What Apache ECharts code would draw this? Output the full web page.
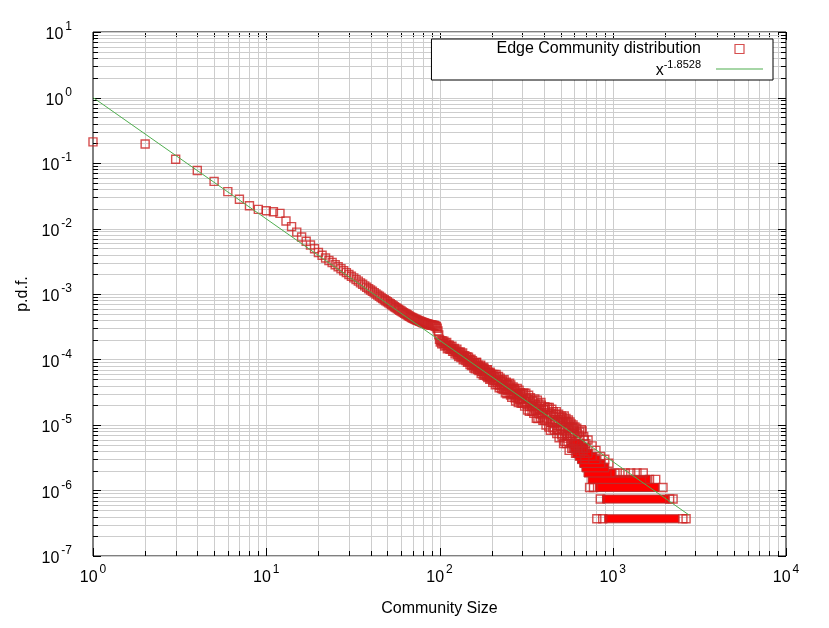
<!DOCTYPE html>
<html><head><meta charset="utf-8">
<script src="https://cdn.jsdelivr.net/npm/echarts@6/dist/echarts.min.js"></script>
<style>html,body{margin:0;padding:0;background:#fff}#c{width:829px;height:628px}</style>
</head><body><div id="c"></div>
<script>
// ---- data: community size vs p.d.f. (individual points) ----
const communitySizes = [
 1,2,3,4,5,6,7,8,9,10,11,12,13,14,15,16,17,18,19,20,
 21,22,23,24,25,26,27,28,29,30,31,32,33,34,35,36,37,38,39,40,
 41,42,43,44,45,46,47,48,49,50,51,52,53,54,55,56,57,58,59,60,
 61,62,63,64,65,66,67,68,69,70,71,72,73,74,75,76,77,78,79,80,
 81,82,83,84,85,86,87,88,89,90,91,92,93,94,95,96,97,98,99,100,
 101,102,103,104,105,106,107,108,109,110,111,112,113,114,115,116,117,118,119,120,
 121,122,123,124,125,126,127,128,129,130,131,132,133,134,135,136,137,138,139,140,
 142,144,146,148,150,152,154,156,158,160,162,164,166,168,170,172,174,176,178,180,
 182,184,186,188,190,192,194,196,198,200,
 143,145,147,149,151,153,155,157,159,161,163,165,167,169,171,173,175,177,179,181,
 183,185,187,189,191,193,195,197,199,
 203,206,209,212,215,218,221,224,227,230,233,236,239,242,245,248,251,254,257,260,
 263,266,269,272,275,278,281,284,287,290,293,296,299,
 201,204,207,210,213,216,219,222,225,228,231,234,237,240,243,246,249,252,255,258,
 261,264,267,270,273,276,279,282,285,288,291,294,297,300,
 305,310,315,320,325,330,335,340,345,350,355,360,365,370,375,380,385,390,395,400,
 302,307,312,317,322,327,332,337,342,347,352,357,362,367,372,377,382,387,392,397,
 406,412,418,424,430,436,442,448,454,460,466,472,478,484,490,496,500,
 403,409,415,421,427,433,439,445,451,457,463,469,475,481,487,493,499,
 505,510,515,520,525,530,535,540,545,550,555,560,565,570,575,580,585,590,595,600,
 502,507,512,517,522,527,532,537,542,547,552,557,562,567,572,577,582,587,592,597,
 610,620,630,640,650,660,670,680,690,700,
 605,615,625,635,645,655,665,675,685,695,
 720,760,800,850,900,950,
 735,774,809,847,875,1030,1100,1180,1270,1380,1500,
 1630,1770,1950,2130,2230,2540,2650
];
const pdfValues = [
 0.21,0.195,0.114,0.077,0.0525,0.0365,0.028,0.0223,0.0196,0.0187,0.018,0.017,0.013,0.0107,0.0088,0.0074,0.0064,0.0056,0.0049,0.0043,
 0.0039,0.00355,0.00325,0.00302,0.0028,0.0026,0.00243,0.00227,0.00212,0.00199,0.00187,0.00176,0.00166,0.00157,0.00148,0.00141,0.00133,0.00127,0.0012,0.00115,
 0.0011,0.00105,0.001,0.000962,0.000925,0.000885,0.00085,0.000818,0.000788,0.00076,0.000733,0.000708,0.000684,0.00066,0.00064,0.00062,0.0006,0.000582,0.000566,0.00055,
 0.000534,0.00052,0.000506,0.000494,0.000481,0.000469,0.000458,0.000447,0.000437,0.00043,0.000422,0.000414,0.000407,0.000401,0.000395,0.000389,0.000383,0.000378,0.000373,0.000368,
 0.000364,0.00036,0.000356,0.000352,0.000349,0.000346,0.000343,0.00034,0.000338,0.000336,0.000334,0.000332,0.00033,0.000327,0.000323,0.000316,0.0003,0.000272,0.000238,0.000203,
 1.84e-4,1.94e-4,1.73e-4,1.92e-4,1.75e-4,1.91e-4,1.60e-4,1.77e-4,1.65e-4,1.82e-4,1.46e-4,1.65e-4,1.51e-4,1.66e-4,1.43e-4,1.57e-4,1.46e-4,1.60e-4,1.33e-4,1.43e-4,
 1.34e-4,1.47e-4,1.22e-4,1.38e-4,1.28e-4,1.44e-4,1.19e-4,1.29e-4,1.11e-4,1.28e-4,1.16e-4,1.30e-4,1.07e-4,1.20e-4,1.12e-4,1.26e-4,9.9e-5,1.13e-4,1.03e-4,1.14e-4,
 9.6e-5,1.10e-4,9.4e-5,1.00e-4,8.4e-5,1.01e-4,8.4e-5,8.9e-5,7.4e-5,8.9e-5,7.8e-5,9.0e-5,7.0e-5,7.8e-5,7.0e-5,7.9e-5,6.1e-5,7.3e-5,6.6e-5,7.6e-5,
 5.8e-5,6.6e-5,5.9e-5,6.9e-5,5.3e-5,6.3e-5,5.5e-5,6.4e-5,5.1e-5,5.7e-5,
 1.07e-4,9.1e-5,1.08e-4,9.1e-5,9.7e-5,8.1e-5,9.6e-5,8.1e-5,8.7e-5,7.2e-5,9.0e-5,7.7e-5,8.2e-5,6.8e-5,7.4e-5,8.2e-5,6.6e-5,7.3e-5,5.8e-5,7.2e-5,
 6.2e-5,6.6e-5,5.6e-5,7.0e-5,5.6e-5,6.0e-5,5.0e-5,6.1e-5,5.4e-5,
 4.5e-5,5.9e-5,4.8e-5,5.9e-5,4.2e-5,4.9e-5,3.7e-5,5.2e-5,4.2e-5,4.6e-5,3.5e-5,4.9e-5,3.6e-5,4.1e-5,3.0e-5,4.2e-5,3.5e-5,4.35e-5,2.86e-5,3.5e-5,
 2.93e-5,3.8e-5,2.96e-5,3.4e-5,2.33e-5,3.0e-5,3.6e-5,2.48e-5,3.0e-5,2.52e-5,3.1e-5,2.14e-5,2.69e-5,
 5.9e-5,4.8e-5,5.4e-5,4.1e-5,5.5e-5,4.5e-5,5.5e-5,4.0e-5,4.6e-5,3.6e-5,4.8e-5,3.9e-5,4.2e-5,3.1e-5,4.5e-5,3.4e-5,4.0e-5,3.1e-5,3.6e-5,4.1e-5,
 2.65e-5,3.5e-5,3.0e-5,3.6e-5,2.6e-5,3.3e-5,2.77e-5,3.0e-5,2.2e-5,3.4e-5,2.42e-5,2.88e-5,2.49e-5,2.96e-5,
 3.0e-5,1.94e-5,3.05e-5,2.05e-5,2.44e-5,1.62e-5,2.6e-5,1.94e-5,2.29e-5,1.51e-5,2.49e-5,1.69e-5,1.93e-5,1.26e-5,2.09e-5,1.47e-5,2.2e-5,1.54e-5,1.18e-5,1.74e-5,
 2.16e-5,3.08e-5,2.27e-5,2.55e-5,1.69e-5,2.85e-5,1.92e-5,2.18e-5,1.62e-5,2.36e-5,1.82e-5,2.06e-5,1.27e-5,2.4e-5,1.52e-5,1.77e-5,1.32e-5,2.01e-5,1.42e-5,1.69e-5,
 1.91e-5,1.0e-5,1.53e-5,1.15e-5,1.85e-5,8.3e-6,1.5e-5,1.1e-5,1.6e-5,8.4e-6,1.19e-5,1.6e-5,8.6e-6,1.21e-5,6.4e-6,1.31e-5,9.5e-6,
 1.19e-5,1.74e-5,1.27e-5,1.85e-5,9.3e-6,1.43e-5,1.08e-5,1.74e-5,9.1e-6,1.36e-5,1.06e-5,1.46e-5,7.4e-6,1.12e-5,1.46e-5,8.2e-6,1.2e-5,
 1.37e-5,6.7e-6,1.13e-5,5.2e-6,1.37e-5,8.1e-6,1.14e-5,5.2e-6,9.3e-6,6.3e-6,1.19e-5,4.1e-6,9.6e-6,6.7e-6,1.04e-5,4.4e-6,7.4e-6,1.0e-5,5.2e-6,8.1e-6,
 1.09e-5,7.3e-6,1.29e-5,8.5e-6,1.11e-5,5.6e-6,9.3e-6,1.26e-5,6.7e-6,1.11e-5,5.6e-6,8.9e-6,6.7e-6,1.11e-5,5.6e-6,8.9e-6,6.7e-6,9.3e-6,4.4e-6,7.4e-6,
 3.7e-6,8.9e-6,5.2e-6,7.0e-6,3.7e-6,8.5e-6,4.4e-6,6.7e-6,3.0e-6,5.2e-6,
 9.3e-6,5.2e-6,7.4e-6,4.1e-6,7.8e-6,4.8e-6,8.1e-6,4.1e-6,5.9e-6,4.4e-6,
 5.9e-6,4.8e-6,4.1e-6,3.3e-6,3.0e-6,2.6e-6,
 1.11e-6,1.11e-6,3.7e-7,7.4e-7,3.7e-7,1.85e-6,1.85e-6,1.85e-6,1.85e-6,1.85e-6,1.85e-6,
 1.48e-6,1.48e-6,1.11e-6,7.4e-7,7.4e-7,3.7e-7,3.7e-7
];
// ---- dense tail: runs of consecutive sizes sharing the same p.d.f. level ----
const runStart = [948, 920, 840, 760, 720, 700, 680, 660, 640, 620, 600, 590];
const runEnd   = [2280, 2000, 1750, 1560, 980, 900, 850, 800, 760, 720, 680, 640];
const runLevel = [3.7e-7, 7.4e-7, 1.11e-6, 1.48e-6, 1.85e-6, 2.22e-6, 2.59e-6, 2.96e-6, 3.33e-6, 3.7e-6, 4.44e-6, 5.18e-6];
// ---- power-law fit ----
const fitExponent = -1.8528;
const fitSizes = [1, 2750];
// ---- axes ----
const xDecades = [1, 10, 100, 1000, 10000];
const yDecades = [1e-7, 1e-6, 1e-5, 1e-4, 1e-3, 1e-2, 1e-1, 1, 10];
const minorMultipliers = [2, 3, 4, 5, 6, 7, 8, 9];
const seriesName = 'Edge Community distribution';
const fitName = 'fit';

const FONT = 'Liberation Sans, Arial, sans-serif';
const RED = '#cc2222';
const GREEN = '#4fae4f';

const scatterData = communitySizes.map((s, i) => [s, pdfValues[i]]);
const runData = runStart.map((s, i) => [s, runEnd[i], runLevel[i]]);
const fitData = fitSizes.map(s => [s, Math.pow(s, fitExponent)]);

const frameData = [];
xDecades.forEach((d, i) => {
  frameData.push([d, 1, 0, 1]);
  if (i < xDecades.length - 1) minorMultipliers.forEach(m => frameData.push([d * m, 1, 0, 0]));
});
yDecades.forEach((d, i) => {
  frameData.push([1, d, 1, 1]);
  if (i < yDecades.length - 1) minorMultipliers.forEach(m => frameData.push([1, d * m, 1, 0]));
});

function supLabel(v) {
  const e = Math.round(Math.log10(v));
  return '{b|10}{s|' + e + '}';
}
const labelRich = {
  b: {fontFamily: FONT, fontSize: 16, color: '#000', verticalAlign: 'bottom', lineHeight: 22},
  s: {fontFamily: FONT, fontSize: 12, color: '#000', verticalAlign: 'top', lineHeight: 22, padding: [0, 0, 0, 2]}
};

const chart = echarts.init(document.getElementById('c'), null, {renderer: 'canvas'});
chart.setOption({
  backgroundColor: '#fff',
  animation: false,
  grid: {left: 93, right: 43, top: 32, bottom: 72, show: true, borderColor: '#000', borderWidth: 1, backgroundColor: '#fff'},
  xAxis: {
    type: 'log', logBase: 10, min: 1, max: 10000,
    name: 'Community Size', nameLocation: 'middle', nameGap: 45,
    nameTextStyle: {fontFamily: FONT, fontSize: 16, color: '#000'},
    axisLine: {show: false}, axisTick: {show: false}, splitLine: {show: false},
    axisLabel: {formatter: supLabel, rich: labelRich, margin: 8}
  },
  yAxis: {
    type: 'log', logBase: 10, min: 1e-7, max: 10,
    name: 'p.d.f.', nameLocation: 'middle', nameGap: 60,
    nameTextStyle: {fontFamily: FONT, fontSize: 16, color: '#000'},
    axisLine: {show: false}, axisTick: {show: false}, splitLine: {show: false},
    axisLabel: {formatter: supLabel, rich: labelRich, margin: 21}
  },
  legend: {
    orient: 'vertical', right: 56, top: 39, align: 'right',
    itemWidth: 47, itemHeight: 9, itemGap: 2,
    padding: [2, 10, 1, 65],
    borderColor: '#000', borderWidth: 1, backgroundColor: '#fff', borderRadius: 0,
    textStyle: {fontFamily: FONT, fontSize: 16, color: '#000', padding: [0, 10, 0, 0],
      rich: {s: {fontFamily: FONT, fontSize: 11, verticalAlign: 'top', lineHeight: 20}, b: {fontFamily: FONT, fontSize: 16, verticalAlign: 'bottom', lineHeight: 20}}},
    formatter: n => n === fitName ? '{b|x}{s|-1.8528}' : n,
    data: [
      {name: seriesName, icon: 'path://M0,0H10V10H0Z', itemStyle: {color: 'none', borderColor: RED, borderWidth: 1.2}},
      {name: fitName, icon: 'path://M0,0H60V1.2H0Z', itemStyle: {color: GREEN, borderWidth: 0}}
    ]
  },
  series: [
    {
      type: 'custom', name: 'frame', silent: true, z: 1,
      data: frameData, encode: {x: 0, y: 1},
      renderItem: (params, api) => {
        const cs = params.coordSys;
        const kind = api.value(2), major = api.value(3);
        const len = major ? 8 : 5;
        const children = [];
        const grey = {stroke: '#cdcdcd', lineWidth: 1};
        const blk = {stroke: '#000', lineWidth: 1};
        if (kind === 0) {
          const px = Math.round(api.coord([api.value(0), 1])[0]) + 0.5;
          if (!major || (px > cs.x + 1 && px < cs.x + cs.width - 1))
            children.push({type: 'line', shape: {x1: px, y1: cs.y, x2: px, y2: cs.y + cs.height}, style: grey});
          children.push({type: 'line', shape: {x1: px, y1: cs.y + cs.height, x2: px, y2: cs.y + cs.height - len}, style: blk});
          children.push({type: 'line', shape: {x1: px, y1: cs.y, x2: px, y2: cs.y + len}, style: blk});
        } else {
          const py = Math.round(api.coord([1, api.value(1)])[1]) + 0.5;
          children.push({type: 'line', shape: {x1: cs.x, y1: py, x2: cs.x + cs.width, y2: py}, style: grey});
          children.push({type: 'line', shape: {x1: cs.x, y1: py, x2: cs.x + len, y2: py}, style: blk});
          children.push({type: 'line', shape: {x1: cs.x + cs.width, y1: py, x2: cs.x + cs.width - len, y2: py}, style: blk});
        }
        return {type: 'group', children};
      }
    },
    {
      type: 'scatter', name: seriesName, z: 3,
      symbol: 'rect', symbolSize: 8,
      itemStyle: {color: 'none', borderColor: RED, borderWidth: 1.4},
      data: scatterData
    },
    {
      type: 'custom', name: 'runs', z: 3, silent: true,
      data: runData, encode: {x: [0, 1], y: 2},
      renderItem: (params, api) => {
        const a = api.coord([api.value(0), api.value(2)]);
        const b = api.coord([api.value(1), api.value(2)]);
        const h = 8;
        return {type: 'rect', shape: {x: a[0] - h / 2, y: a[1] - h / 2, width: b[0] - a[0] + h, height: h},
          style: {fill: '#ff0000', stroke: '#b83030', lineWidth: 1}};
      }
    },
    {
      type: 'line', name: fitName, z: 4, symbol: 'none',
      lineStyle: {color: GREEN, width: 1}, itemStyle: {color: GREEN},
      data: fitData
    }
  ]
});
</script></body></html>
